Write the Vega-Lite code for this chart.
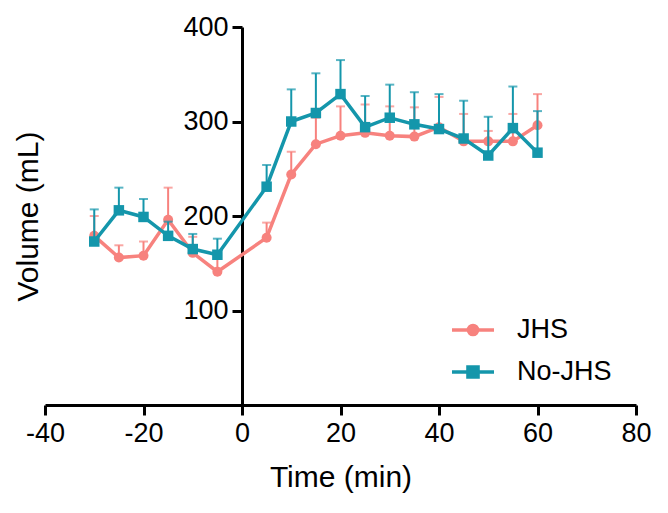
{
  "$schema": "https://vega.github.io/schema/vega-lite/v6.json",
  "width": 591,
  "height": 378,
  "autosize": {"type": "none"},
  "padding": {"left": 45, "top": 27, "right": 32, "bottom": 108},
  "background": "white",
  "config": {
    "view": {"stroke": null},
    "font": "Liberation Sans",
    "axis": {
      "grid": false,
      "domainColor": "black",
      "domainWidth": 3,
      "tickColor": "black",
      "tickWidth": 3,
      "tickSize": 10,
      "labelFont": "Liberation Sans",
      "labelFontSize": 27,
      "labelColor": "black",
      "titleFont": "Liberation Sans",
      "titleFontSize": 30,
      "titleFontWeight": "normal",
      "titleColor": "black",
      "labelFlush": false,
      "labelOverlap": false
    }
  },
  "data": {
    "values": [
      {"t": -30, "group": "JHS", "mean": 179, "upper": 200},
      {"t": -25, "group": "JHS", "mean": 156, "upper": 169},
      {"t": -20, "group": "JHS", "mean": 158, "upper": 173},
      {"t": -15, "group": "JHS", "mean": 196, "upper": 230},
      {"t": -10, "group": "JHS", "mean": 161, "upper": 178},
      {"t": -5, "group": "JHS", "mean": 141, "upper": 156},
      {"t": 5, "group": "JHS", "mean": 177, "upper": 193},
      {"t": 10, "group": "JHS", "mean": 244, "upper": 268},
      {"t": 15, "group": "JHS", "mean": 276, "upper": 304},
      {"t": 20, "group": "JHS", "mean": 285, "upper": 316},
      {"t": 25, "group": "JHS", "mean": 288, "upper": 318},
      {"t": 30, "group": "JHS", "mean": 285, "upper": 316},
      {"t": 35, "group": "JHS", "mean": 284, "upper": 315},
      {"t": 40, "group": "JHS", "mean": 294, "upper": 326},
      {"t": 45, "group": "JHS", "mean": 279, "upper": 308},
      {"t": 50, "group": "JHS", "mean": 279, "upper": 290},
      {"t": 55, "group": "JHS", "mean": 279, "upper": 308},
      {"t": 60, "group": "JHS", "mean": 296, "upper": 329},
      {"t": -30, "group": "No-JHS", "mean": 173, "upper": 207},
      {"t": -25, "group": "No-JHS", "mean": 206, "upper": 230},
      {"t": -20, "group": "No-JHS", "mean": 199, "upper": 218},
      {"t": -15, "group": "No-JHS", "mean": 179, "upper": 194},
      {"t": -10, "group": "No-JHS", "mean": 165, "upper": 181},
      {"t": -5, "group": "No-JHS", "mean": 159, "upper": 176},
      {"t": 5, "group": "No-JHS", "mean": 231, "upper": 254},
      {"t": 10, "group": "No-JHS", "mean": 300, "upper": 334},
      {"t": 15, "group": "No-JHS", "mean": 309, "upper": 351},
      {"t": 20, "group": "No-JHS", "mean": 329, "upper": 365},
      {"t": 25, "group": "No-JHS", "mean": 294, "upper": 327},
      {"t": 30, "group": "No-JHS", "mean": 304, "upper": 339},
      {"t": 35, "group": "No-JHS", "mean": 297, "upper": 331},
      {"t": 40, "group": "No-JHS", "mean": 292, "upper": 329},
      {"t": 45, "group": "No-JHS", "mean": 282, "upper": 322},
      {"t": 50, "group": "No-JHS", "mean": 264, "upper": 305},
      {"t": 55, "group": "No-JHS", "mean": 293, "upper": 337},
      {"t": 60, "group": "No-JHS", "mean": 267, "upper": 311}
    ]
  },
  "encoding": {
    "x": {
      "field": "t",
      "type": "quantitative",
      "scale": {"domain": [-40, 80], "nice": false, "zero": false},
      "axis": {
        "title": "Time (min)",
        "values": [-40, -20, 0, 20, 40, 60, 80],
        "labelExpr": "'' + datum.value",
        "labelPadding": 5,
        "titlePadding": 16
      }
    },
    "y": {
      "field": "mean",
      "type": "quantitative",
      "scale": {"domain": [0, 400], "nice": false},
      "axis": {
        "title": "Volume (mL)",
        "values": [100, 200, 300, 400],
        "offset": -197,
        "labelPadding": 4,
        "titleX": -199,
        "titleY": 189,
        "titleBaseline": "bottom",
        "titleAngle": -90
      }
    },
    "color": {
      "field": "group",
      "type": "nominal",
      "scale": {"domain": ["JHS", "No-JHS"], "range": ["#F7827E", "#1496AB"]},
      "legend": {
        "title": null,
        "orient": "none",
        "legendX": 405,
        "legendY": 280,
        "padding": 0,
        "labelFont": "Liberation Sans",
        "labelFontSize": 27,
        "labelColor": "black",
        "labelOffset": 21,
        "rowPadding": 6,
        "symbolSize": 1764,
        "encode": {
          "symbols": {
            "update": {
              "shape": {"signal": "datum.value === 'JHS' ? 'M-1,0H1M-0.22,0A0.22,0.22 0 1,0 0.22,0A0.22,0.22 0 1,0 -0.22,0Z' : 'M-1,0H1M-0.24,-0.24H0.24V0.24H-0.24Z'"},
              "fill": {"scale": "color", "field": "value"},
              "stroke": {"scale": "color", "field": "value"},
              "strokeWidth": {"value": 3.5},
              "size": {"value": 1764},
              "opacity": {"value": 1}
            }
          }
        }
      }
    }
  },
  "layer": [
    {
      "transform": [{"filter": "datum.group === 'JHS'"}],
      "mark": {"type": "rule", "strokeWidth": 2},
      "encoding": {"y2": {"field": "upper"}}
    },
    {
      "transform": [{"filter": "datum.group === 'JHS'"}],
      "mark": {"type": "tick", "orient": "horizontal", "size": 9, "thickness": 2},
      "encoding": {"y": {"field": "upper", "type": "quantitative"}}
    },
    {
      "transform": [{"filter": "datum.group === 'JHS'"}],
      "mark": {"type": "line", "strokeWidth": 3.5},
      "encoding": {}
    },
    {
      "transform": [{"filter": "datum.group === 'JHS'"}],
      "mark": {"type": "point", "shape": "circle", "filled": true, "size": 100, "opacity": 1},
      "encoding": {}
    },
    {
      "transform": [{"filter": "datum.group === 'No-JHS'"}],
      "mark": {"type": "rule", "strokeWidth": 2},
      "encoding": {"y2": {"field": "upper"}}
    },
    {
      "transform": [{"filter": "datum.group === 'No-JHS'"}],
      "mark": {"type": "tick", "orient": "horizontal", "size": 9, "thickness": 2},
      "encoding": {"y": {"field": "upper", "type": "quantitative"}}
    },
    {
      "transform": [{"filter": "datum.group === 'No-JHS'"}],
      "mark": {"type": "line", "strokeWidth": 3.5},
      "encoding": {}
    },
    {
      "transform": [{"filter": "datum.group === 'No-JHS'"}],
      "mark": {"type": "point", "shape": "square", "filled": true, "size": 110, "opacity": 1},
      "encoding": {}
    }
  ]
}
